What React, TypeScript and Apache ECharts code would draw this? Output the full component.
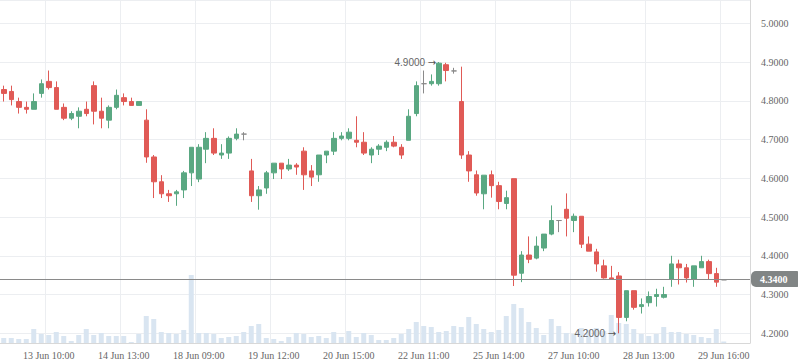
import React, { useEffect, useRef } from 'react';
import * as echarts from 'echarts';

// Trading days and hourly session slots
const DAYS = ['12 Jun', '13 Jun', '14 Jun', '15 Jun', '18 Jun', '19 Jun', '20 Jun', '21 Jun', '22 Jun', '25 Jun', '26 Jun', '27 Jun', '28 Jun', '29 Jun'];
const HOURS = ['09:00', '10:00', '11:00', '12:00', '13:00', '14:00', '15:00'];
const FIRST_SKIP = 2; // 12 Jun starts at 11:00
const CLOSING_SLOT = '29 Jun 16:00';
const EMPTY_SLOTS = [' ', '  ', '   '];

const OPEN = [
  4.829, 4.824, 4.798, 4.783, 4.778, 4.819, 4.850, 4.834, 4.783, 4.755,
  4.760, 4.778, 4.839, 4.773, 4.750, 4.783, 4.808, 4.798, 4.788, 4.750,
  4.655, 4.591, 4.560, 4.560, 4.570, 4.614, 4.598, 4.675, 4.703, 4.660,
  4.665, 4.703, 4.714, 4.619, 4.555, 4.575, 4.614, 4.639, 4.624, 4.634,
  4.670, 4.619, 4.609, 4.660, 4.670, 4.703, 4.703, 4.698, 4.693, 4.660,
  4.675, 4.680, 4.693, 4.680, 4.698, 4.767, 4.844, 4.844, 4.844, 4.893,
  4.877, 4.798, 4.660, 4.609, 4.560, 4.609, 4.581, 4.535, 4.599, 4.355,
  4.402, 4.394, 4.420, 4.456, 4.491, 4.520, 4.491, 4.502, 4.430, 4.410,
  4.374, 4.343, 4.348, 4.241, 4.310, 4.269, 4.279, 4.295, 4.293, 4.339,
  4.379, 4.369, 4.339, 4.369, 4.385, 4.354, 4.338,
];
const CLOSE = [
  4.819, 4.803, 4.783, 4.778, 4.798, 4.844, 4.834, 4.778, 4.755, 4.767,
  4.773, 4.767, 4.773, 4.755, 4.783, 4.814, 4.798, 4.788, 4.798, 4.655,
  4.591, 4.560, 4.555, 4.565, 4.614, 4.680, 4.680, 4.703, 4.665, 4.665,
  4.703, 4.714, 4.714, 4.555, 4.570, 4.614, 4.639, 4.624, 4.634, 4.629,
  4.609, 4.603, 4.660, 4.670, 4.703, 4.709, 4.719, 4.693, 4.665, 4.675,
  4.683, 4.693, 4.683, 4.660, 4.760, 4.839, 4.844, 4.850, 4.897, 4.878,
  4.877, 4.660, 4.619, 4.562, 4.608, 4.581, 4.540, 4.550, 4.350, 4.402,
  4.391, 4.425, 4.456, 4.491, 4.491, 4.497, 4.502, 4.430, 4.412, 4.379,
  4.343, 4.340, 4.241, 4.310, 4.267, 4.274, 4.295, 4.300, 4.300, 4.379,
  4.369, 4.343, 4.374, 4.385, 4.354, 4.332, 4.338,
];
const LOW = [
  4.798, 4.788, 4.767, 4.767, 4.778, 4.808, 4.829, 4.778, 4.750, 4.750,
  4.729, 4.760, 4.739, 4.729, 4.729, 4.778, 4.788, 4.788, 4.788, 4.640,
  4.549, 4.549, 4.539, 4.529, 4.549, 4.580, 4.590, 4.639, 4.660, 4.650,
  4.650, 4.698, 4.698, 4.539, 4.519, 4.560, 4.598, 4.598, 4.619, 4.609,
  4.570, 4.580, 4.591, 4.639, 4.660, 4.698, 4.698, 4.680, 4.660, 4.639,
  4.660, 4.670, 4.680, 4.650, 4.698, 4.760, 4.819, 4.839, 4.839, 4.850,
  4.870, 4.650, 4.591, 4.555, 4.520, 4.550, 4.520, 4.520, 4.322, 4.332,
  4.381, 4.391, 4.412, 4.453, 4.461, 4.450, 4.461, 4.420, 4.412, 4.359,
  4.341, 4.340, 4.200, 4.231, 4.261, 4.251, 4.269, 4.269, 4.290, 4.320,
  4.326, 4.331, 4.320, 4.369, 4.339, 4.320, 4.338,
];
const HIGH = [
  4.839, 4.839, 4.808, 4.798, 4.819, 4.855, 4.878, 4.850, 4.793, 4.773,
  4.783, 4.798, 4.850, 4.808, 4.788, 4.829, 4.819, 4.808, 4.798, 4.778,
  4.660, 4.608, 4.570, 4.570, 4.619, 4.680, 4.688, 4.719, 4.729, 4.688,
  4.708, 4.729, 4.719, 4.650, 4.580, 4.619, 4.639, 4.639, 4.650, 4.639,
  4.680, 4.634, 4.660, 4.670, 4.719, 4.719, 4.729, 4.760, 4.719, 4.680,
  4.688, 4.698, 4.709, 4.688, 4.778, 4.850, 4.878, 4.868, 4.900, 4.898,
  4.885, 4.888, 4.670, 4.620, 4.608, 4.620, 4.591, 4.568, 4.599, 4.412,
  4.450, 4.450, 4.456, 4.530, 4.491, 4.561, 4.509, 4.502, 4.450, 4.418,
  4.390, 4.374, 4.358, 4.310, 4.310, 4.290, 4.308, 4.315, 4.320, 4.400,
  4.390, 4.379, 4.374, 4.400, 4.390, 4.369, 4.338,
];
const VOLUME = [
  5, 5, 4, 4, 14, 9, 8, 11, 7, 2,
  8, 14, 8, 10, 7, 7, 7, 1, 9, 27,
  24, 11, 10, 9, 13, 68, 10, 10, 9, 5,
  6, 7, 11, 17, 19, 5, 4, 2, 6, 10,
  9, 6, 7, 5, 11, 6, 12, 6, 10, 8,
  3, 3, 5, 9, 14, 21, 17, 16, 11, 12,
  17, 16, 26, 19, 14, 11, 13, 27, 39, 35,
  21, 15, 8, 24, 17, 10, 9, 15, 13, 15,
  12, 28, 20, 19, 14, 9, 7, 9, 16, 11,
  11, 9, 8, 6, 5, 14, 1.5,
];
const LAST_PRICE = 4.34;
const Y_MIN = 4.175;
const Y_MAX = 5.06;
const VOLUME_AXIS_MAX = 343;

const UP = '#5aa882';
const DOWN = '#e05a56';
const DOJI = '#8a8a8a';
const TEXT = '#666';
const FONT = '"Liberation Serif", "Times New Roman", serif';
const SANS = '"Liberation Sans", Arial, sans-serif';

export default function App() {
  const ref = useRef<HTMLDivElement>(null);

  useEffect(() => {
    if (!ref.current) return;
    const chart = echarts.init(ref.current, null, { renderer: 'svg' });

    const categories: string[] = [];
    DAYS.forEach((d) => HOURS.forEach((h) => categories.push(`${d} ${h}`)));
    categories.splice(0, FIRST_SKIP);
    categories.push(CLOSING_SLOT);
    EMPTY_SLOTS.forEach((s) => categories.push(s));

    const candles = OPEN.map((o, i) => [o, CLOSE[i], LOW[i], HIGH[i]]);
    const showIdx = (idx: number) => idx % 10 === 6;

    chart.setOption({
      animation: false,
      backgroundColor: '#fff',
      grid: { left: 0, right: 48, top: 0, bottom: 20 },
      xAxis: {
        type: 'category',
        data: categories,
        boundaryGap: true,
        axisLine: { show: true, lineStyle: { color: '#d8d8d8' } },
        axisTick: { show: false },
        axisLabel: {
          interval: showIdx,
          color: TEXT,
          fontFamily: FONT,
          fontSize: 10,
          margin: 7,
        },
        splitLine: { show: true, interval: showIdx, lineStyle: { color: '#eceef1' } },
      },
      yAxis: [
        {
          type: 'value',
          position: 'right',
          min: Y_MIN,
          max: Y_MAX,
          splitNumber: 8,
          axisLine: { show: true, lineStyle: { color: '#d8d8d8' } },
          axisTick: { show: false },
          axisLabel: {
            color: TEXT,
            fontFamily: FONT,
            fontSize: 10,
            margin: 11,
            showMinLabel: false,
            showMaxLabel: false,
            formatter: (v: number) => v.toFixed(4),
          },
          splitLine: { show: true, lineStyle: { color: '#eceef1' } },
        },
        {
          type: 'value',
          show: false,
          min: 0,
          max: VOLUME_AXIS_MAX,
          splitLine: { show: false },
        },
      ],
      series: [
        {
          type: 'bar',
          name: 'Volume',
          yAxisIndex: 1,
          data: VOLUME,
          barWidth: 5,
          itemStyle: { color: '#d9e5f1' },
          silent: true,
        },
        {
          type: 'candlestick',
          name: 'Price',
          data: candles,
          barWidth: 5,
          itemStyle: {
            color: UP,
            color0: DOWN,
            borderColor: UP,
            borderColor0: DOWN,
            borderColorDoji: DOJI,
            borderWidth: 1,
          },
          markPoint: {
            symbol: 'circle',
            symbolSize: 1,
            itemStyle: { color: 'rgba(0,0,0,0)' },
            label: {
              show: true,
              position: 'left',
              distance: 2,
              color: '#666',
              fontFamily: SANS,
              fontSize: 10,
              formatter: (p: any) => `${Number(p.value).toFixed(4)} {arr|→}`,
              rich: {
                arr: {
                  fontFamily: '"DejaVu Sans", sans-serif',
                  fontSize: 10,
                  color: '#555',
                },
              },
            },
            data: [
              { type: 'max', valueDim: 'highest' },
              { type: 'min', valueDim: 'lowest' },
            ],
          },
          markLine: {
            silent: true,
            symbol: ['none', 'none'],
            lineStyle: { color: '#8a8a8a', type: 'solid', width: 1 },
            label: {
              show: true,
              position: 'end',
              distance: 1,
              formatter: () => LAST_PRICE.toFixed(4),
              color: '#fff',
              fontFamily: FONT,
              fontWeight: 'bold',
              fontSize: 10,
              lineHeight: 12,
              backgroundColor: '#818585',
              borderRadius: 5,
              padding: [2, 14, 2, 9],
            },
            data: [{ yAxis: LAST_PRICE }],
          },
        },
      ],
    });

    return () => chart.dispose();
  }, []);

  return (
    <div
      ref={ref}
      style={{ position: 'fixed', left: 0, top: 0, width: 798, height: 363 }}
    />
  );
}
